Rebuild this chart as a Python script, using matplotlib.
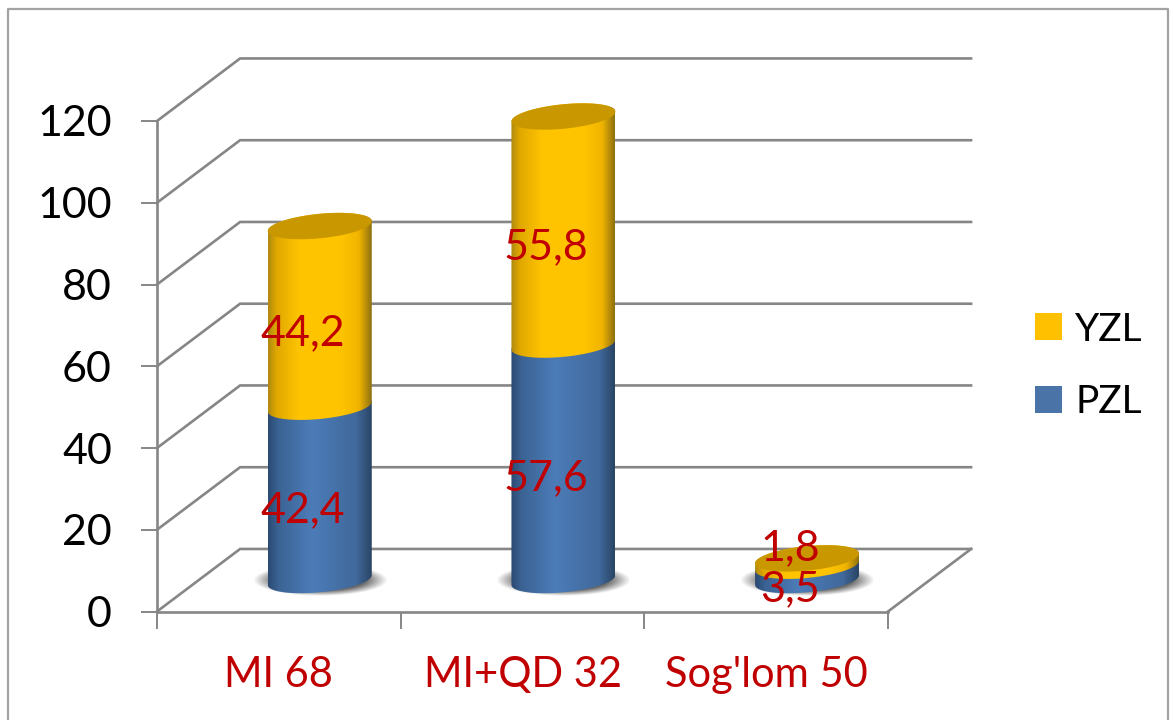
"""Stacked 3D-style cylinder chart of PZL and YZL by study group."""
import matplotlib
matplotlib.use("Agg")
import matplotlib.pyplot as plt
import numpy as np
from matplotlib.colors import LinearSegmentedColormap
from matplotlib.lines import Line2D
from matplotlib.patches import Patch, Polygon

plt.rcParams["font.family"] = ["Lato", "DejaVu Sans"]

categories = ["MI 68", "MI+QD 32", "Sog'lom 50"]
pzl = [42.4, 57.6, 3.5]
yzl = [44.2, 55.8, 1.8]
y_ticks = [0, 20, 40, 60, 80, 100, 120]

W, H = 1173, 720
GRID = "#868686"
RED = "#c00000"
YELLOW = "#ffc000"
BLUE = "#4a74a8"
YELLOW_TOP = "#c99700"
FONT = 31

# oblique projection of the box and cylinder shape, in data units
DEPTH_X, DEPTH_Y = 0.341, 15.3
BASE_X, BASE_Y = 0.668, 7.7
RAD_X, RAD_Y, TILT = 0.2134, 3.0, 1.2

blue_map = LinearSegmentedColormap.from_list(
    "blue_cyl", [(0, "#2c4a72"), (0.1, "#3b6394"), (0.42, "#4c7cb8"),
                 (0.85, "#41699c"), (1, "#2a4565")])
yellow_map = LinearSegmentedColormap.from_list(
    "yellow_cyl", [(0, "#b08a10"), (0.08, "#e0a800"), (0.3, "#ffc400"),
                   (0.7, "#ffc400"), (0.88, "#f0b400"), (1, "#8f7210")])


def rim(cx, cy, start, stop):
    t = np.linspace(start, stop, 60)
    return np.column_stack([cx + RAD_X * np.cos(t),
                            cy + RAD_Y * np.sin(t) + TILT * np.cos(t)])


def draw_segment(ax, fig, cx, y0, y1, cmap, z):
    # front arc at the bottom of the segment, back arc at its top
    outline = np.vstack([rim(cx, y0, np.pi, 2 * np.pi), rim(cx, y1, 0, np.pi)])
    im = ax.imshow(np.linspace(0, 1, 200)[None, :], cmap=cmap, aspect="auto",
                   extent=[cx - RAD_X, cx + RAD_X, y0 - 6, y1 + 6], zorder=z)
    im.set_clip_box(fig.bbox)
    im.set_clip_path(Polygon(outline, transform=ax.transData))


def draw_shadow(ax, fig, cx):
    xx, yy = np.meshgrid(np.linspace(-1, 1, 160), np.linspace(-1, 1, 80))
    fade = np.clip(1 - np.hypot(xx, yy), 0, 1)
    shade = np.zeros(xx.shape + (4,))
    shade[..., :3] = 0.25
    shade[..., 3] = np.clip(fade * 2.4, 0, 0.8)
    im = ax.imshow(shade, aspect="auto", zorder=3,
                   extent=[cx - 0.275, cx + 0.275, BASE_Y - 3.9, BASE_Y + 3.9])
    im.set_clip_box(fig.bbox)


fig = plt.figure(figsize=(W / 100, H / 100), dpi=100, facecolor="white")
ax = fig.add_axes([157 / W, (H - 611.5) / H, 731 / W, 490.5 / H])
ax.patch.set_visible(False)

# gridlines: side wall diagonal plus back wall run
for v in y_ticks:
    ax.plot([0, DEPTH_X, 3 + DEPTH_X], [v, v + DEPTH_Y, v + DEPTH_Y], color=GRID,
            lw=1.9, clip_on=False, zorder=1, solid_joinstyle="miter")
ax.plot([3, 3 + DEPTH_X], [0, DEPTH_Y], color=GRID, lw=1.9, clip_on=False, zorder=1)

for i in range(len(categories)):
    cx = i + BASE_X
    top_b = BASE_Y + pzl[i]
    top_y = top_b + yzl[i]
    draw_shadow(ax, fig, cx)
    draw_segment(ax, fig, cx, BASE_Y, top_b, blue_map, 4 + i)
    draw_segment(ax, fig, cx, top_b, top_y, yellow_map, 4.3 + i)
    ax.add_patch(Polygon(rim(cx, top_y, 0, 2 * np.pi), facecolor=YELLOW_TOP,
                         edgecolor="none", zorder=4.6 + i, clip_on=False))

    # value labels sit a little above each segment's middle on the front plane
    for start, val in ((0, pzl[i]), (pzl[i], yzl[i])):
        lift = 3.7 if val >= 2 else 11.0
        ax.text(i + 0.5 + 0.097, start + val / 2 + lift, f"{val:.1f}".replace(".", ","),
                color=RED, fontsize=FONT, ha="center", va="center", zorder=10,
                clip_on=False)

ax.set_xlim(0, 3)
ax.set_ylim(0, 120)

ax.spines[["top", "right"]].set_visible(False)
ax.spines[["left", "bottom"]].set_color(GRID)
ax.spines[["left", "bottom"]].set_linewidth(1.9)

ax.set_yticks(y_ticks)
ax.tick_params(axis="y", length=11.5, width=1.4, color=GRID, pad=21, labelsize=FONT)
for label in ax.get_yticklabels():
    label.set_verticalalignment("center_baseline")
ax.set_xticks([0, 1, 2, 3])
ax.set_xticklabels([])
ax.tick_params(axis="x", which="major", length=12, width=1.4, color=GRID)
ax.set_xticks([0.5, 1.5, 2.5], minor=True)
ax.set_xticklabels(categories, minor=True, color=RED, fontsize=30)
ax.tick_params(axis="x", which="minor", length=0, pad=32)

handles = [Patch(facecolor=YELLOW, label="YZL"), Patch(facecolor=BLUE, label="PZL")]
fig.legend(handles=handles, loc="center left", bbox_to_anchor=(1035 / W, 1 - 366 / H),
           frameon=False, fontsize=28, borderpad=0, borderaxespad=0,
           handlelength=0.69, handleheight=0.69, handletextpad=0.34, labelspacing=0.95)

# thin frame around the chart area, open at the bottom edge
fig.add_artist(Line2D([8 / W, 8 / W, 1168 / W, 1168 / W],
                      [0, 1 - 8.5 / H, 1 - 8.5 / H, 0],
                      transform=fig.transFigure, color="#a3a3a3", lw=1.6))

fig.savefig("out.png", dpi=100)
plt.close(fig)
